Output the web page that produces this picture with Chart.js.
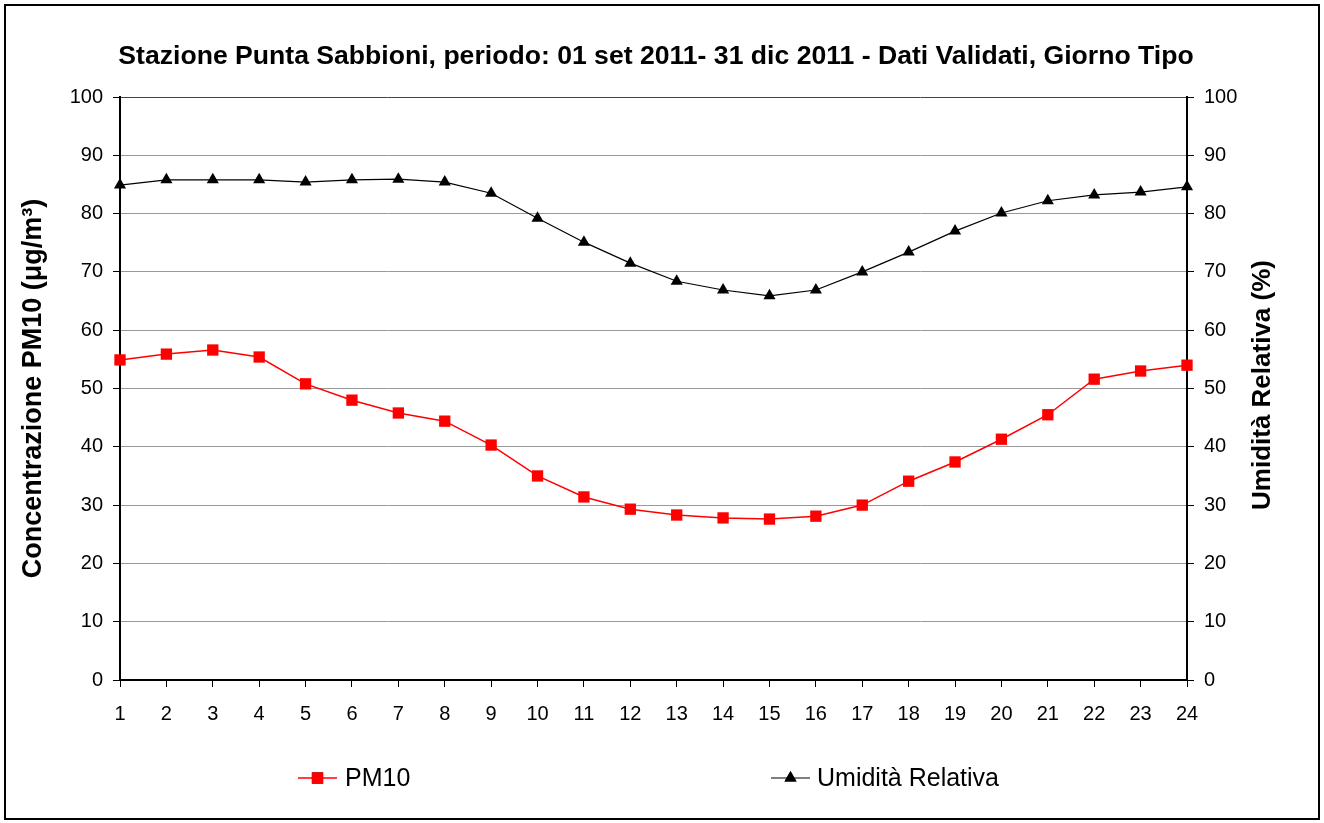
<!DOCTYPE html>
<html>
<head>
<meta charset="utf-8">
<title>Punta Sabbioni - Giorno Tipo</title>
<script src="https://cdn.jsdelivr.net/npm/chart.js@4/dist/chart.umd.min.js"></script>
<style>
    html, body { margin: 0; padding: 0; background: #fff; }
    #frame { position: absolute; left: 4px; top: 4px; width: 1312px; height: 812px; border: 2px solid #000; }
    #chart { position: absolute; left: 0; top: 0; }
</style>
</head>
<body>
<div id="frame"></div>
<canvas id="chart" width="1324" height="823"></canvas>
<script>
// ore del giorno tipo
var hours = ['1', '2', '3', '4', '5', '6', '7', '8', '9', '10', '11', '12',
             '13', '14', '15', '16', '17', '18', '19', '20', '21', '22', '23', '24'];

// PM10 (ug/m3)
var pm10 = [54.9, 55.9, 56.6, 55.4, 50.8, 48.0, 45.8, 44.4, 40.3, 35.0, 31.4, 29.3,
            28.3, 27.8, 27.6, 28.1, 30.0, 34.1, 37.4, 41.3, 45.5, 51.6, 53.0, 54.0];

// umidita relativa (%)
var umidita = [84.9, 85.8, 85.8, 85.8, 85.4, 85.8, 85.9, 85.4, 83.5, 79.2, 75.1, 71.5,
               68.4, 66.9, 65.9, 66.9, 70.0, 73.4, 77.0, 80.1, 82.2, 83.2, 83.7, 84.6];

var yMin = 0, yMax = 100, yStep = 10;

var titleText = 'Stazione Punta Sabbioni, periodo: 01 set 2011- 31 dic 2011 - Dati Validati, Giorno Tipo';
var leftTitle = 'Concentrazione PM10 (\u03bcg/m\u00b3)';
var rightTitle = 'Umidit\u00e0 Relativa (%)';

var fontFamily = '"Liberation Sans", Arial, Helvetica, sans-serif';

// titolo, titolo asse destro e legenda disegnati a mano (stile Excel)
var extrasPlugin = {
    id: 'extras',
    afterDraw: function (chart) {
        var ctx = chart.ctx;
        ctx.save();
        ctx.fillStyle = '#000';
        ctx.font = 'bold 26.6px ' + fontFamily;
        ctx.textAlign = 'center';
        ctx.textBaseline = 'middle';
        ctx.fillText(titleText, 656, 57);

        ctx.save();
        ctx.translate(1263, 385);
        ctx.rotate(-Math.PI / 2);
        ctx.font = 'bold 26px ' + fontFamily;
        ctx.fillText(rightTitle, 0, 0);
        ctx.restore();

        var items = [
            { ds: chart.data.datasets[0], x0: 298, x1: 337, tx: 345 },
            { ds: chart.data.datasets[1], x0: 771, x1: 810, tx: 817 }
        ];
        var ly = 778;
        ctx.font = '25px ' + fontFamily;
        ctx.textAlign = 'left';
        items.forEach(function (it) {
            ctx.strokeStyle = it.ds.borderColor;
            ctx.lineWidth = it.ds.borderWidth;
            ctx.beginPath();
            ctx.moveTo(it.x0, ly);
            ctx.lineTo(it.x1, ly);
            ctx.stroke();
            Chart.helpers.drawPoint(ctx, {
                pointStyle: it.ds.pointStyle,
                radius: it.ds.pointRadius,
                rotation: 0,
                borderWidth: 0
            }, (it.x0 + it.x1) / 2, ly);
            ctx.fillStyle = it.ds.pointBackgroundColor;
            ctx.fill();
            ctx.fillStyle = '#000';
            ctx.fillText(it.ds.label, it.tx, ly + 1);
        });
        ctx.restore();
    }
};

var tickFont = { family: fontFamily, size: 20 };

new Chart(document.getElementById('chart'), {
    type: 'line',
    data: {
        labels: hours,
        datasets: [{
            label: 'PM10',
            data: pm10,
            yAxisID: 'y',
            borderColor: '#ff0000',
            borderWidth: 1.5,
            pointStyle: 'rect',
            pointRadius: 8,
            pointBackgroundColor: '#ff0000',
            pointBorderColor: '#ff0000',
            pointBorderWidth: 0,
            tension: 0,
            fill: false
        }, {
            label: 'Umidit\u00e0 Relativa',
            data: umidita,
            yAxisID: 'y1',
            borderColor: '#000000',
            borderWidth: 1.2,
            pointStyle: 'triangle',
            pointRadius: 7,
            pointBackgroundColor: '#000000',
            pointBorderColor: '#000000',
            pointBorderWidth: 0,
            tension: 0,
            fill: false
        }]
    },
    options: {
        responsive: false,
        animation: false,
        layout: { padding: { top: 97, bottom: 83, left: 8, right: 8 } },
        plugins: {
            legend: { display: false },
            tooltip: { enabled: false }
        },
        scales: {
            x: {
                type: 'category',
                offset: false,
                grid: { drawOnChartArea: false, tickLength: 7, tickColor: '#000', tickWidth: 1 },
                border: { color: '#000', width: 2 },
                ticks: { font: tickFont, color: '#000', padding: 15, maxRotation: 0, autoSkip: false },
                afterFit: function (s) { s.height = 60; }
            },
            y: {
                position: 'left',
                min: yMin,
                max: yMax,
                ticks: { stepSize: yStep, font: tickFont, color: '#000', padding: 10 },
                grid: {
                    color: function (c) { return c.tick && c.tick.value === yMax ? '#444' : '#999'; },
                    lineWidth: 1,
                    tickColor: '#000',
                    tickLength: 7
                },
                border: { color: '#000', width: 2 },
                title: {
                    display: true,
                    text: leftTitle,
                    color: '#000',
                    font: { family: fontFamily, size: 27, weight: 'bold' },
                    padding: { top: 9, bottom: 0 }
                },
                afterFit: function (s) { s.width = 112; }
            },
            y1: {
                position: 'right',
                min: yMin,
                max: yMax,
                ticks: { stepSize: yStep, font: tickFont, color: '#000', padding: 10 },
                grid: { drawOnChartArea: false, tickColor: '#000', tickLength: 7 },
                border: { color: '#000', width: 2 },
                afterFit: function (s) { s.width = 129; }
            }
        }
    },
    plugins: [extrasPlugin]
});
</script>
</body>
</html>
